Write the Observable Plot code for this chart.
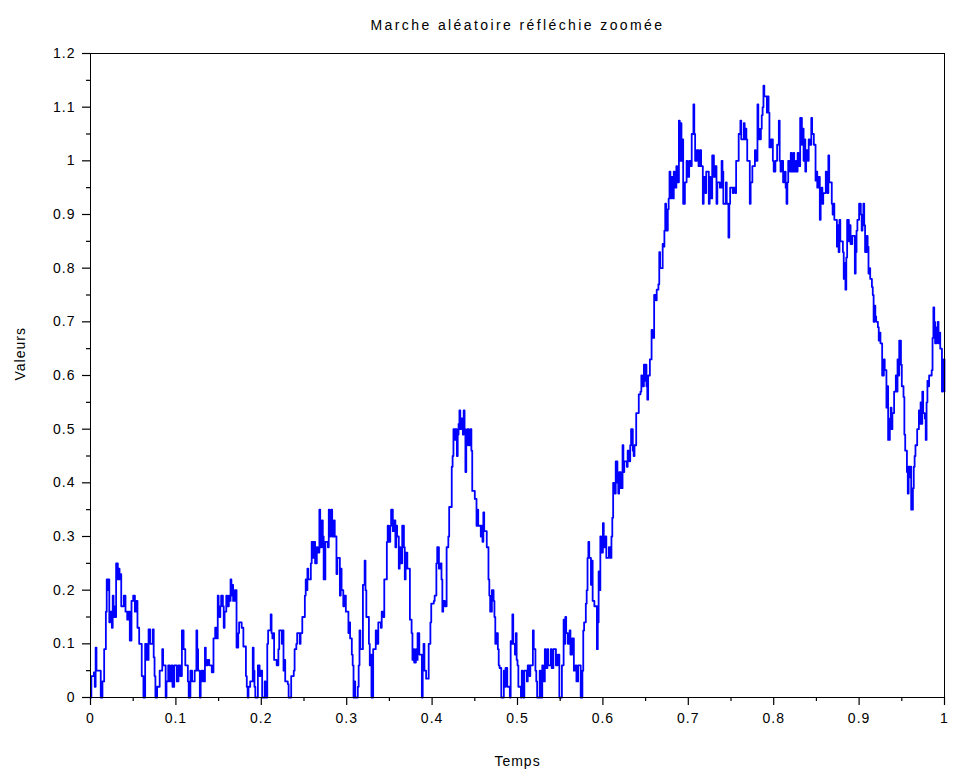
<!DOCTYPE html>
<html><head><meta charset="utf-8">
<script src="https://cdn.jsdelivr.net/npm/d3@7"></script>
<script src="https://cdn.jsdelivr.net/npm/@observablehq/plot@0.6"></script>
<style>body{margin:0;background:#fff}</style>
</head><body><div id="chart"></div>
<script>
const titre = "Marche aléatoire réfléchie zoomée";
const labelX = "Temps";
const labelY = "Valeurs";
const xTicks = [0,0.1,0.2,0.3,0.4,0.5,0.6,0.7,0.8,0.9,1];
const xTickLabels = ["0","0.1","0.2","0.3","0.4","0.5","0.6","0.7","0.8","0.9","1"];
const xMinor = [0.05,0.15,0.25,0.35,0.45,0.55,0.65,0.75,0.85,0.95];
const yTicks = [0,0.1,0.2,0.3,0.4,0.5,0.6,0.7,0.8,0.9,1,1.1,1.2];
const yTickLabels = ["0","0.1","0.2","0.3","0.4","0.5","0.6","0.7","0.8","0.9","1","1.1","1.2"];
const yMinor = [0.05,0.15,0.25,0.35,0.45,0.55,0.65,0.75,0.85,0.95,1.05,1.15];

// [temps, valeur]
const phaseA = [[0,0],[.001,.04],[.004,.047],[.005,.02],[.006,.093],[.007,.05],[.009,.05],[.012,0],[.014,.03],[.016,.09],[.018,.16],[.019,.22],[.020,.20],[.021,.22],[.022,.14],[.023,.16],[.025,.13],[.026,.19],[.027,.17],[.028,.15],[.030,.25],[.032,.22],[.033,.24],[.034,.22],[.035,.23],[.036,.17],[.039,.19],[.041,.16],[.043,.145],[.044,.16],[.046,.106],[.048,.18],[.050,.19],[.052,.16],[.054,.18],[.055,.13],[.057,.10],[.060,.04],[.062,0],[.064,.10],[.066,.07],[.068,.127],[.070,.10],[.073,.127],[.074,.075],[.075,.04],[.076,0],[.078,.02],[.081,.05],[.084,.09],[.085,.06],[.088,0],[.089,.03],[.091,.06],[.093,.03],[.095,.06],[.096,.02],[.098,.06],[.101,.03],[.103,.06],[.105,.04],[.107,.125],[.109,.09],[.111,.06],[.114,.03],[.115,0],[.117,.05],[.119,.03],[.122,.05],[.124,.125],[.125,.09],[.126,.05],[.128,0],[.129,.03]];
const phaseB = [[.130,.05],[.132,.03],[.134,.093],[.135,.06],[.137,.07],[.139,.06],[.142,.047],[.144,.11],[.146,.13],[.148,.11],[.149,.19],[.150,.17],[.151,.15],[.152,.17],[.153,.19],[.155,.17],[.156,.13],[.157,.16],[.159,.19],[.160,.17],[.162,.19],[.163,.18],[.164,.22],[.165,.19],[.166,.21],[.167,.18],[.169,.20],[.171,.093],[.173,.12],[.174,.14],[.177,.13],[.179,.095],[.182,.04],[.183,.02],[.184,0],[.185,.02],[.187,.03],[.190,.093],[.191,.05],[.192,.02],[.193,0],[.196,.06],[.198,.04],[.199,.05],[.201,0],[.204,.03],[.205,0],[.207,.10],[.208,.125],[.211,.155],[.212,.12],[.213,.11],[.214,.12],[.215,.07],[.218,.06],[.220,.09],[.221,.125],[.224,.10],[.225,.125],[.226,.05],[.227,.07],[.228,.03],[.231,.025],[.232,0],[.234,0],[.235,.04],[.238,.05],[.239,.09],[.241,.10],[.242,.12],[.245,.10],[.246,.12],[.248,.15],[.251,.19],[.252,.22],[.253,.20],[.254,.24],[.255,.22],[.258,.25],[.259,.29],[.261,.26],[.262,.29],[.263,.25],[.265,.28],[.266,.27],[.268,.35],[.269,.28],[.271,.33],[.272,.30],[.273,.22],[.275,.29],[.278,.28],[.279,.35],[.280,.30],[.281,.33]];
const phaseC = [[.282,.35],[.283,.30],[.285,.33],[.286,.30],[.288,.23],[.289,.26],[.292,.19],[.293,.24],[.294,.20],[.296,.17],[.297,.19],[.299,.16],[.301,.16],[.302,.12],[.303,.14],[.304,.11],[.306,.08],[.307,.06],[.308,0],[.309,.03],[.310,0],[.313,.02],[.314,.06],[.315,.125],[.316,.09],[.319,.21],[.321,.255],[.322,.20],[.323,.15],[.326,.10],[.327,.06],[.328,.08],[.329,0],[.331,.09],[.334,.125],[.335,.10],[.337,.14],[.340,.13],[.341,.16],[.343,.15],[.344,.22],[.347,.29],[.348,.32],[.349,.29],[.351,.32],[.352,.35],[.354,.31],[.355,.33],[.357,.28],[.358,.32],[.359,.30],[.361,.24],[.362,.28],[.363,.25],[.365,.32],[.367,.28],[.368,.22],[.369,.27],[.371,.24],[.374,.145],[.376,.12],[.377,.07],[.378,.09],[.379,.065],[.381,.09],[.382,.07],[.383,.12],[.385,.08],[.388,0],[.389,.06],[.390,.10],[.391,.05],[.393,.035],[.396,.10],[.398,.14],[.399,.175],[.402,.18],[.403,.19],[.405,.25],[.406,.28],[.408,.24],[.410,.25]];
const phaseD = [[.411,.22],[.412,.16],[.413,.18],[.415,.17],[.417,.28],[.419,.30],[.420,.355],[.423,.43],[.424,.45],[.425,.50],[.426,.48],[.427,.50],[.429,.45],[.430,.49],[.431,.51],[.432,.535],[.433,.50],[.434,.52],[.436,.49],[.437,.535],[.438,.50],[.439,.42],[.440,.47],[.441,.50],[.443,.47],[.445,.50],[.446,.46],[.447,.385],[.450,.37],[.452,.32],[.453,.35],[.454,.32],[.457,.30],[.458,.32],[.459,.29],[.460,.345],[.461,.31],[.464,.28],[.466,.22],[.467,.19],[.468,.16],[.470,.20],[.472,.18],[.473,.15],[.474,.10],[.475,.12],[.477,.09],[.478,.06],[.479,.055],[.481,0],[.484,.05],[.485,.02],[.486,.055],[.488,.02],[.491,0],[.492,.105],[.493,.10],[.494,.155],[.495,.10],[.497,.08],[.498,.12],[.499,.07],[.500,.06],[.501,.02],[.504,0],[.505,.05]];
const phaseE = [[.506,.03],[.507,0],[.508,.05],[.511,.03],[.512,.06],[.514,.04],[.515,.06],[.518,.125],[.519,.09],[.521,.05],[.522,.03],[.523,0],[.526,.05],[.527,0],[.529,.06],[.530,.03],[.532,.09],[.533,.055],[.535,.09],[.536,.06],[.539,.09],[.540,.055],[.542,.09],[.545,.06],[.547,.08],[.549,0],[.552,.06],[.554,.145],[.555,.10],[.556,.15],[.557,.12],[.559,.10],[.561,.125],[.562,.08],[.564,.11],[.566,.05],[.568,.06],[.569,.03],[.571,.06],[.574,0],[.576,.05],[.577,.125],[.578,.14],[.580,.175],[.581,.20],[.582,.26],[.583,.29],[.584,.26],[.586,.21],[.587,.255],[.588,.18],[.590,.17],[.593,.09],[.594,.14],[.595,.235],[.596,.20],[.597,.30],[.598,.27],[.600,.325],[.601,.28],[.603,.30],[.604,.26],[.607,.28],[.609,.26]];
const phaseF = [[.610,.30],[.611,.335],[.612,.40],[.614,.38],[.615,.44],[.617,.40],[.618,.38],[.619,.42],[.621,.39],[.623,.47],[.624,.42],[.625,.44],[.628,.43],[.629,.46],[.631,.44],[.632,.47],[.633,.50],[.635,.46],[.636,.45],[.637,.47],[.639,.53],[.642,.565],[.644,.57],[.645,.60],[.646,.58],[.648,.62],[.649,.59],[.650,.62],[.651,.58],[.652,.555],[.653,.60],[.655,.63],[.657,.685],[.658,.67],[.660,.75],[.662,.74],[.663,.76],[.665,.77],[.666,.83],[.667,.80],[.670,.845],[.671,.84],[.672,.87],[.673,.92],[.674,.87],[.676,.91],[.677,.93],[.678,.98],[.679,.93],[.680,.97],[.682,.93],[.683,.98],[.684,.95],[.686,.99],[.687,.96],[.689,1.075],[.690,1.0],[.691,1.07]];
const phaseG = [[.692,1.0],[.693,1.04],[.694,.92],[.696,.96],[.698,1.0],[.699,.97],[.701,1.0],[.703,.99],[.704,1.05],[.706,1.105],[.707,1.05],[.708,1.0],[.710,1.02],[.712,.99],[.714,1.02],[.715,.99],[.717,.92],[.718,.97],[.720,.94],[.721,.98],[.724,.92],[.725,.97],[.726,.93],[.728,1.01],[.730,.97],[.731,.99],[.733,.92],[.734,.96],[.737,.95],[.739,1.0],[.740,.98],[.741,.92],[.744,.96],[.745,.92],[.747,.857],[.748,.92],[.749,.95],[.752,.94],[.753,.95],[.755,.94],[.756,1.0],[.759,1.05],[.761,1.075],[.762,1.04],[.765,1.07],[.766,1.04],[.767,1.06],[.768,1.04],[.769,1.0],[.772,.92],[.773,.96],[.775,.99],[.778,1.02],[.779,1.0],[.781,1.105],[.782,1.06],[.783,1.04],[.785,1.06],[.786,1.085],[.787,1.1],[.788,1.14],[.789,1.12],[.792,1.09],[.793,1.12],[.794,1.09],[.795,1.025],[.797,1.04],[.799,1.0],[.800,.98],[.802,1.0],[.804,1.03],[.806,1.075],[.807,1.0],[.808,.98]];
const phaseH = [[.809,1.0],[.811,.96],[.813,.98],[.814,.95],[.815,.92],[.816,.96],[.817,1.0],[.819,.98],[.820,1.015],[.821,.98],[.823,1.015],[.824,.98],[.826,1.0],[.827,.98],[.828,1.015],[.829,.99],[.831,1.08],[.833,1.03],[.834,1.06],[.835,1.0],[.836,1.04],[.837,.98],[.838,1.02],[.840,1.0],[.841,1.04],[.842,1.03],[.844,1.08],[.845,1.05],[.847,1.03],[.849,.963],[.850,.98],[.851,.95],[.852,.97],[.854,.89],[.855,.93],[.856,.95],[.857,.92],[.858,.94],[.861,.98],[.862,.95],[.863,.94],[.864,1.01],[.865,.96],[.868,.92],[.869,.90],[.870,.92],[.871,.89],[.874,.84],[.875,.88],[.876,.83],[.877,.89],[.878,.85],[.881,.83],[.882,.78],[.883,.81],[.884,.76],[.885,.82],[.886,.89],[.888,.85],[.889,.88],[.890,.845]];
const phaseI = [[.892,.86],[.895,.79],[.896,.83],[.897,.87],[.898,.89],[.900,.92],[.902,.90],[.903,.87],[.904,.88],[.905,.92],[.906,.88],[.907,.83],[.909,.86],[.910,.84],[.911,.79],[.912,.80],[.913,.78],[.915,.765],[.916,.75],[.917,.70],[.918,.73],[.919,.71],[.920,.70],[.922,.69],[.923,.665],[.924,.68],[.925,.66],[.927,.60],[.929,.63],[.930,.61],[.932,.54],[.933,.58],[.934,.48],[.936,.52],[.937,.54],[.938,.50],[.939,.53],[.941,.57],[.943,.60],[.944,.57],[.945,.63],[.946,.60],[.947,.665],[.949,.62],[.950,.58],[.952,.56],[.953,.49],[.954,.46],[.956,.42],[.957,.38],[.958,.43],[.959,.41],[.960,.43],[.961,.35],[.963,.39],[.964,.43],[.965,.45],[.966,.47],[.968,.50],[.970,.535],[.971,.51],[.972,.55],[.973,.51],[.974,.57],[.975,.53],[.977,.52],[.978,.48],[.979,.55],[.980,.59],[.981,.58],[.982,.60],[.985,.61],[.986,.67],[.987,.727],[.988,.70],[.989,.66],[.991,.69],[.992,.70],[.993,.66],[.994,.68],[.995,.65],[.997,.57],[.998,.60],[.999,.63],[1,.57]];

const data = [...phaseA, ...phaseB, ...phaseC, ...phaseD, ...phaseE, ...phaseF, ...phaseG, ...phaseH, ...phaseI]
  .map(([t, v]) => ({t, v}));

const font = "'Liberation Sans', Arial, Helvetica, sans-serif";
const chart = Plot.plot({
  width: 953,
  height: 777,
  marginLeft: 90,
  marginRight: 9,
  marginTop: 53,
  marginBottom: 80,
  style: {fontFamily: font, fontSize: "14px", background: "#fff", color: "#000", letterSpacing: "1px"},
  x: {domain: [0, 1]},
  y: {domain: [0, 1.2]},
  marks: [
    Plot.line(data, {x: "t", y: "v", curve: "step-after", stroke: "#0000ff", strokeWidth: 1.8}),
    Plot.frame({stroke: "#000", strokeWidth: 1}),
    Plot.axisX(xTicks, {tickSize: 8, tickPadding: 8, fontSize: 14, tickFormat: d => xTickLabels[xTicks.indexOf(d)], label: null, strokeWidth: 1.2}),
    Plot.axisX(xMinor, {tickSize: 4, tickFormat: () => "", label: null, strokeWidth: 1.2}),
    Plot.axisY(yTicks, {tickSize: 8, tickPadding: 7, fontSize: 14, tickFormat: d => yTickLabels[yTicks.indexOf(d)], label: null, strokeWidth: 1.2}),
    Plot.axisY(yMinor, {tickSize: 4, tickFormat: () => "", label: null, strokeWidth: 1.2}),
    Plot.text([titre], {text: d => d, frameAnchor: "top", dy: -33, fontSize: 14}),
    Plot.text([labelX], {text: d => d, frameAnchor: "bottom", dy: 68, fontSize: 14}),
    Plot.text([labelY], {text: d => d, frameAnchor: "left", dx: -70, dy: 5, rotate: -90, fontSize: 14})
  ]
});
d3.select(chart).selectAll("text").filter(function() { return this.textContent === titre; }).attr("letter-spacing", "2.4px");
document.getElementById("chart").appendChild(chart);
</script>
</body></html>
